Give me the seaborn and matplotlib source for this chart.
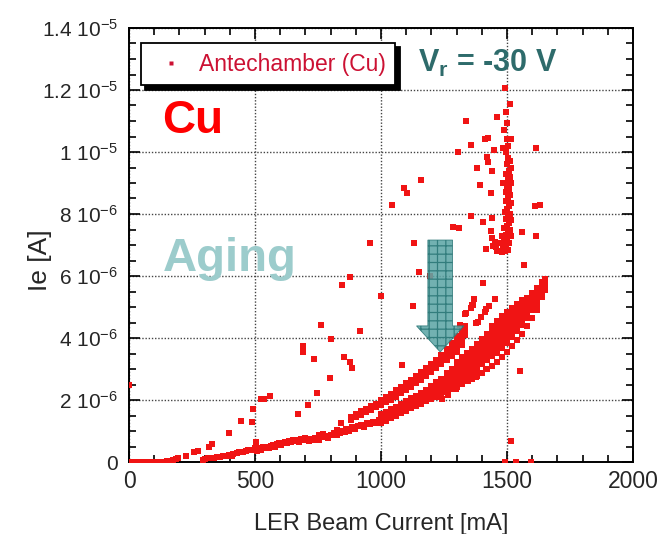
import matplotlib
matplotlib.use("Agg")
import matplotlib.pyplot as plt
from matplotlib.lines import Line2D
from matplotlib.patches import Polygon
from matplotlib.ticker import MultipleLocator
import numpy as np
import pandas as pd
import seaborn as sns

# ---------------------------------------------------------------
# Electron current readings: beam current in mA, Ie in micro-amps
# ---------------------------------------------------------------

# start of the fill, near zero current
baseline_ma = [0, 6, 14, 22, 30, 56, 66, 78, 90, 116, 128, 150, 162, 174, 186, 196, 0]
baseline_ua = [0.0, 0.0, 0.0, 0.01, 0.0, 0.0, 0.01, 0.0, 0.0, 0.0, 0.01, 0.02, 0.03, 0.06, 0.09, 0.12, 2.5]

# rise between 200 and 500 mA
ramp_ma = [228, 256, 272, 292, 300, 312, 324, 336, 348, 360, 372, 384, 396, 412, 428, 440,
           452, 464, 476, 488, 500, 316, 328, 396, 444, 488, 492, 408, 436, 472, 504]
ramp_ua = [0.19, 0.32, 0.36, 0.06, 0.10, 0.12, 0.14, 0.13, 0.16, 0.17, 0.20, 0.19, 0.22, 0.27, 0.30, 0.33,
           0.31, 0.36, 0.38, 0.40, 0.44, 0.48, 0.58, 0.94, 1.32, 1.29, 1.71, 0.20, 0.32, 0.39, 0.65]

# single band between 500 and 1000 mA
mid_ma = [500, 508, 516, 524, 532, 540, 548, 556, 564, 572, 580, 588, 596, 604, 612, 620, 628, 636,
          644, 652, 660, 668, 676, 684, 692, 700, 708, 716, 724, 732, 740, 752, 764, 776, 788, 800,
          812, 824, 836, 848, 860, 872, 884, 896, 908, 920, 932, 944, 956, 968, 980, 992,
          752, 770, 826, 840, 858]
mid_ua = [0.42, 0.36, 0.45, 0.40, 0.47, 0.44, 0.50, 0.46, 0.52, 0.55, 0.50, 0.57, 0.60, 0.56, 0.62, 0.65, 0.61, 0.67,
          0.64, 0.70, 0.68, 0.72, 0.66, 0.74, 0.70, 0.76, 0.72, 0.68, 0.74, 0.70, 0.77, 0.72, 0.80, 0.84, 0.78, 0.88,
          0.92, 0.86, 0.95, 1.00, 1.05, 1.00, 1.12, 1.08, 1.16, 1.20, 1.14, 1.25, 1.22, 1.30, 1.26, 1.35,
          0.87, 0.90, 1.02, 1.26, 0.96]

# upper branch (after conditioning), one column of readings per current step
aged_ma = [880, 900, 920, 940, 960, 980, 1000, 1020, 1040, 1060, 1080, 1100, 1120, 1140, 1160,
           1180, 1200, 1220, 1240, 1260, 1280, 1300, 1320, 1335]
aged_ua = [[1.37, 1.46], [1.44, 1.54], [1.52, 1.63], [1.60, 1.71], [1.68, 1.80], [1.76, 1.88],
           [1.83, 1.93, 2.01], [1.92, 2.01, 2.10], [2.01, 2.11, 2.20], [2.11, 2.21, 2.31],
           [2.21, 2.31, 2.42], [2.32, 2.43, 2.54], [2.43, 2.54, 2.66], [2.55, 2.66, 2.78],
           [2.66, 2.78, 2.91], [2.79, 2.91, 3.04], [2.91, 3.04, 3.17], [3.04, 3.17, 3.30],
           [3.17, 3.30, 3.44], [3.30, 3.44, 3.58, 3.66], [3.42, 3.56, 3.70, 3.83],
           [3.54, 3.68, 3.82, 3.96, 4.06], [3.78, 3.92, 4.06, 4.20, 4.30], [4.10, 4.24, 4.38]]

# main lower branch up to the highest current
main_ma = [1000, 1020, 1040, 1060, 1080, 1100, 1120, 1140, 1160, 1180, 1200, 1220, 1240, 1260,
           1280, 1300, 1320, 1340, 1360, 1380, 1400, 1420, 1440, 1460, 1480, 1500, 1520, 1540,
           1560, 1580, 1600, 1620, 1640, 1650]
main_ua = [[1.27, 1.37, 1.47, 1.55], [1.33, 1.43, 1.53, 1.62], [1.41, 1.51, 1.61, 1.70],
           [1.48, 1.58, 1.68, 1.78], [1.57, 1.67, 1.77, 1.87], [1.64, 1.75, 1.86, 1.96],
           [1.73, 1.84, 1.95, 2.05], [1.80, 1.92, 2.03, 2.13],
           [1.88, 2.00, 2.12, 2.22], [1.96, 2.08, 2.20, 2.32],
           [2.03, 2.15, 2.28, 2.40, 2.46], [2.10, 2.24, 2.36, 2.49, 2.57],
           [2.18, 2.31, 2.45, 2.58, 2.68], [2.27, 2.40, 2.53, 2.66, 2.80, 2.88],
           [2.35, 2.48, 2.62, 2.76, 2.89, 3.00], [2.43, 2.57, 2.70, 2.84, 2.98, 3.12, 3.22],
           [2.51, 2.65, 2.79, 2.93, 3.07, 3.21, 3.33, 3.40], [2.61, 2.74, 2.88, 3.02, 3.16, 3.30, 3.43, 3.52],
           [2.69, 2.83, 2.97, 3.11, 3.25, 3.39, 3.52, 3.65], [2.77, 2.92, 3.07, 3.21, 3.35, 3.50, 3.65, 3.81],
           [2.87, 3.17, 3.31, 3.46, 3.60, 3.75, 3.88, 3.98], [2.99, 3.29, 3.43, 3.58, 3.72, 3.86, 4.00, 4.12],
           [3.11, 3.41, 3.56, 3.70, 3.84, 3.98, 4.12, 4.25, 4.38],
           [3.23, 3.53, 3.68, 3.82, 3.97, 4.11, 4.26, 4.41, 4.55],
           [3.39, 3.69, 3.84, 3.98, 4.12, 4.27, 4.42, 4.56, 4.70],
           [3.56, 3.85, 4.00, 4.14, 4.29, 4.44, 4.58, 4.71, 4.85],
           [3.73, 4.02, 4.16, 4.31, 4.45, 4.60, 4.74, 4.85, 4.98],
           [3.93, 4.21, 4.35, 4.49, 4.63, 4.77, 4.90, 4.98, 5.10],
           [4.13, 4.41, 4.55, 4.68, 4.82, 4.96, 5.11, 5.24], [4.39, 4.66, 4.80, 4.93, 5.07, 5.20, 5.28],
           [4.63, 4.90, 5.04, 5.18, 5.32, 5.45], [4.91, 5.05, 5.19, 5.33, 5.47, 5.61],
           [5.31, 5.45, 5.58, 5.71, 5.80], [5.56, 5.68, 5.80, 5.90]]

# burst of high readings around 1500 mA before conditioning
burst_ma = [1492, 1512, 1496, 1460, 1336, 1500, 1488, 1412, 1424, 1356, 1500, 1516, 1304, 1448, 1484,
            1496, 1504, 1616, 1420, 1424, 1380, 1440, 1392, 1436, 1160, 1092, 1104, 1612, 1632, 1356,
            1440, 1404, 1284, 1308, 1436, 1560, 1616, 1568,
            1504, 1512, 1500, 1516, 1508, 1496, 1512, 1504, 1516, 1484, 1500, 1508, 1496, 1512, 1504,
            1496, 1516, 1508, 1500, 1492, 1512, 1504, 1496, 1516, 1508, 1500, 1488, 1512, 1504, 1496,
            1516, 1500, 1488, 1508, 1496, 1484, 1504, 1480, 1472, 1456, 1444, 1452, 1440, 1468, 1480,
            1460, 1416, 1492]
burst_ua = [12.06, 11.55, 11.29, 11.13, 11.0, 10.94, 10.71, 10.42, 10.45, 10.23, 10.42, 10.42, 10.0, 10.06, 10.13,
            10.0, 10.2, 10.13, 9.84, 9.68, 9.48, 9.39, 8.94, 8.68, 9.1, 8.84, 8.68, 8.26, 8.29, 7.94,
            7.87, 7.74, 7.58, 7.55, 7.45, 7.42, 7.29, 6.35,
            9.8, 9.7, 9.6, 9.5, 9.4, 9.3, 9.2, 9.1, 9.0, 9.0, 8.9, 8.8, 8.7, 8.6, 8.5,
            8.42, 8.35, 8.25, 8.16, 8.08, 8.0, 7.92, 7.84, 7.8, 7.7, 7.62, 7.55, 7.5, 7.4, 7.32,
            7.28, 7.2, 7.12, 7.05, 6.97, 6.9, 6.85, 7.3, 7.05, 6.95, 6.97, 7.1, 7.23, 6.8, 6.78,
            6.82, 6.87, 6.8]

# isolated readings
stray_ma = [1552, 1516, 1492, 1536, 1596, 1196, 1404, 1452, 1428, 1368, 1360, 1356, 1332, 1084, 1128,
            760, 800, 916, 692, 692, 736, 852, 876, 884, 796, 748, 672, 712, 524, 536, 560,
            1244, 1264, 1296, 1344, 1376, 1416, 1376, 1396, 1412, 1364, 1312, 1336, 1384, 1416,
            1132, 956, 1044, 1152, 876, 844, 1000]
stray_ua = [2.94, 0.68, 0.0, 0.0, 0.0, 6.0, 5.77, 5.26, 5.03, 5.26, 5.06, 4.97, 4.77, 3.13, 5.03,
            4.42, 3.97, 4.23, 3.74, 3.55, 3.32, 3.39, 3.23, 3.03, 2.71, 2.23, 1.55, 1.84, 2.03, 2.03, 2.13,
            2.03, 2.16, 2.35, 2.60, 2.75, 3.00, 4.48, 4.68, 4.84, 5.06, 4.42, 4.81, 4.52, 4.94,
            7.06, 7.06, 8.29, 6.13, 5.97, 5.71, 5.35]

# axis ticks
x_ticks = [0, 500, 1000, 1500, 2000]
y_ticks = [0, 2e-6, 4e-6, 6e-6, 8e-6, 1e-5, 1.2e-5, 1.4e-5]
y_tick_text = ["0", "2 10$^{-6}$", "4 10$^{-6}$", "6 10$^{-6}$", "8 10$^{-6}$",
               "1 10$^{-5}$", "1.2 10$^{-5}$", "1.4 10$^{-5}$"]

# conditioning arrow: centre current, top, head base and tip in micro-amps
arrow_center_ma = 1235
arrow_shaft_half_ma = 49
arrow_head_half_ma = 94
arrow_top_ua = 7.16
arrow_base_ua = 4.39
arrow_tip_ua = 3.55


def flatten(currents, columns):
    xs, ys = [], []
    for c, col in zip(currents, columns):
        for v in col:
            xs.append(c)
            ys.append(v)
    return xs, ys


aged_x, aged_y = flatten(aged_ma, aged_ua)
main_x, main_y = flatten(main_ma, main_ua)

current = baseline_ma + ramp_ma + mid_ma + aged_x + main_x + burst_ma + stray_ma
ie_ua = baseline_ua + ramp_ua + mid_ua + aged_y + main_y + burst_ua + stray_ua
df = pd.DataFrame({"current": current, "ie": np.array(ie_ua) * 1e-6})

sns.set_style("ticks")
plt.rcParams["font.family"] = ["Liberation Sans", "DejaVu Sans"]
plt.rcParams["mathtext.default"] = "regular"
plt.rcParams["hatch.linewidth"] = 0.9

fig = plt.figure(figsize=(6.62, 5.34), dpi=100)
ax = fig.add_axes([129 / 662, 72 / 534, 504 / 662, 434 / 534])

sns.scatterplot(data=df, x="current", y="ie", marker="s", s=16, color="#f01414",
                linewidth=0, ax=ax, zorder=3, legend=False)

ax.set_xlim(0, 2000)
ax.set_ylim(0, 1.4e-5)
ax.set_xticks(x_ticks)
ax.set_xticklabels([str(t) for t in x_ticks])
ax.set_yticks(y_ticks)
ax.set_yticklabels(y_tick_text)
ax.xaxis.set_minor_locator(MultipleLocator(100))
ax.yaxis.set_minor_locator(MultipleLocator(0.5e-6))
ax.tick_params(which="both", direction="in", top=True, right=True, width=1.2, color="black")
ax.tick_params(which="major", length=8)
ax.tick_params(which="minor", length=5)
ax.tick_params(axis="x", which="major", labelsize=16.5, pad=6)
ax.tick_params(axis="y", which="major", labelsize=15, pad=8)
for sp in ax.spines.values():
    sp.set_linewidth(1.4)
    sp.set_color("black")
ax.grid(True, which="major", linestyle=(0, (1, 1.3)), color="#444444", linewidth=1.0)
ax.set_axisbelow(True)

ax.set_xlabel("LER Beam Current [mA]", fontsize=17, labelpad=14)
ax.set_ylabel("Ie [A]", fontsize=19)
ax.yaxis.set_label_coords(-0.153, 0.465)

# legend with a solid drop shadow
handle = Line2D([], [], linestyle="none", marker="s", markersize=3.2,
                color="#cc1133", markeredgecolor="none")
leg = ax.legend([handle], ["Antechamber (Cu)"], loc="upper left",
                bbox_to_anchor=(0.024, 0.965), borderaxespad=0, frameon=True,
                fancybox=False, shadow={"color": "black", "alpha": 1, "ox": 3, "oy": -3},
                prop={"size": 16.5}, handlelength=1.8, handletextpad=0.3,
                borderpad=0.42, labelcolor="#cc1133", framealpha=1)
leg.get_frame().set_edgecolor("black")
leg.get_frame().set_linewidth(1.3)
leg.set_zorder(5)

# annotations
ax.text(0.065, 0.758, "Cu", transform=ax.transAxes, color="#ff0000",
        fontsize=33, fontweight="bold", ha="left", va="baseline")
ax.text(0.067, 0.44, "Aging", transform=ax.transAxes, color="#9ccccc",
        fontsize=34, fontweight="bold", ha="left", va="baseline")
ax.text(0.573, 0.899, "V$_{r}$ = -30 V", transform=ax.transAxes, color="#2e6b6b",
        fontsize=22, fontweight="bold", ha="left", va="baseline")

c = arrow_center_ma
arrow_pts = [
    (c - arrow_shaft_half_ma, arrow_top_ua * 1e-6),
    (c + arrow_shaft_half_ma, arrow_top_ua * 1e-6),
    (c + arrow_shaft_half_ma, arrow_base_ua * 1e-6),
    (c + arrow_head_half_ma, arrow_base_ua * 1e-6),
    (c, arrow_tip_ua * 1e-6),
    (c - arrow_head_half_ma, arrow_base_ua * 1e-6),
    (c - arrow_shaft_half_ma, arrow_base_ua * 1e-6),
]
ax.add_patch(Polygon(arrow_pts, closed=True, facecolor="#5fa6a6", edgecolor="#2a7676",
                     hatch="++", linewidth=0.6, alpha=0.88, zorder=4))

fig.savefig("out.png", dpi=100)
